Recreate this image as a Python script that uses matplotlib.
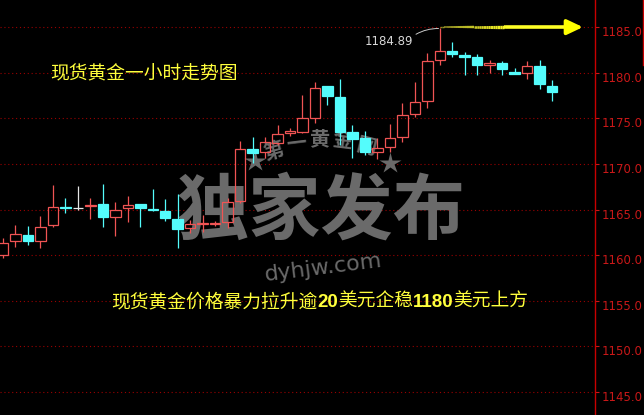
import matplotlib
matplotlib.use('Agg')
import matplotlib.pyplot as plt
import numpy as np
from matplotlib.collections import LineCollection
from matplotlib.transforms import ScaledTranslation
from matplotlib.lines import Line2D

plt.rcParams['font.family'] = ['Noto Sans CJK SC', 'DejaVu Sans']

# ---- data (gold spot, 1-hour candles) ----
opens = [1160.0, 1161.5, 1162.2, 1161.5, 1163.3, 1165.3, 1165.2, 1165.4, 1165.6, 1164.2,
         1165.2, 1165.6, 1165.1, 1164.8, 1164.0, 1163.0, 1163.4, 1163.4, 1163.6, 1165.9,
         1171.6, 1171.3, 1172.3, 1173.4, 1173.5, 1175.1, 1178.6, 1177.4, 1173.5, 1172.9,
         1171.3, 1171.9, 1173.0, 1175.5, 1176.9, 1181.4, 1182.4, 1182.0, 1181.8, 1180.9,
         1181.1, 1180.1, 1180.0, 1180.8, 1178.6]
highs = [1161.9, 1163.3, 1163.2, 1164.3, 1167.7, 1166.3, 1167.6, 1166.3, 1167.8, 1165.8,
         1166.5, 1165.6, 1167.3, 1166.2, 1166.7, 1163.8, 1164.4, 1163.7, 1166.3, 1172.5,
         1173.0, 1173.0, 1174.3, 1174.0, 1177.6, 1179.0, 1178.6, 1179.3, 1174.3, 1173.6,
         1172.9, 1174.4, 1176.7, 1179.0, 1182.2, 1184.89, 1183.4, 1182.3, 1182.1, 1181.4,
         1181.3, 1180.6, 1181.3, 1181.4, 1179.2]
lows = [1159.7, 1160.9, 1161.1, 1160.8, 1163.1, 1164.6, 1164.9, 1164.0, 1163.1, 1162.1,
        1163.6, 1163.1, 1164.8, 1163.7, 1160.8, 1162.4, 1162.5, 1163.2, 1163.0, 1165.7,
        1170.1, 1170.7, 1172.1, 1173.1, 1173.4, 1174.5, 1176.5, 1172.1, 1170.7, 1171.0,
        1170.5, 1171.3, 1172.4, 1175.2, 1176.2, 1180.9, 1181.8, 1179.8, 1179.8, 1180.0,
        1179.8, 1179.9, 1179.3, 1178.2, 1176.9]
closes = [1161.3, 1162.3, 1161.5, 1163.1, 1165.3, 1165.2, 1165.2, 1165.5, 1164.2, 1164.9,
          1165.5, 1165.2, 1165.0, 1164.1, 1162.9, 1163.4, 1163.5, 1163.5, 1165.8, 1171.6,
          1171.2, 1172.4, 1173.3, 1173.6, 1175.1, 1178.4, 1177.5, 1173.5, 1172.7, 1171.3,
          1171.8, 1172.9, 1175.4, 1176.8, 1181.3, 1182.4, 1182.1, 1181.8, 1180.9, 1181.1,
          1180.4, 1179.9, 1180.8, 1178.8, 1177.9]
price_ticks = [1145, 1150, 1155, 1160, 1165, 1170, 1175, 1180, 1185]
title_text = "现货黄金一小时走势图"
headline_parts = [("现货黄金价格暴力拉升逾", False), ("20", True), ("美元企稳", False),
                  ("1180", True), ("美元上方", False)]
watermark_text = "独家发布"
site_text = "dyhjw.com"
brand_text = "第一黄金网"

W, H = 644, 415
fig = plt.figure(figsize=(W / 100, H / 100), dpi=100, facecolor='black')
ax = fig.add_axes([0, 0, 595 / W, 1])
ax.set_facecolor('black')

n = len(opens)
xs = np.arange(n)
ax.set_xlim(-0.24, 47.44)
ax.set_ylim(1142.42, 1188.02)

# grid
for t in price_ticks:
    ax.axhline(t, color='#9A0000', lw=0.8, ls=(0, (1, 2.5)), zorder=0.5)

# watermark (below candles)
ax.text(321 / W, 1 - 212 / H, watermark_text, transform=fig.transFigure, fontsize=52,
        fontweight='bold', color='#6A6A6A', ha='center', va='center', zorder=1)
ax.text(323 / W, 1 - 268 / H, site_text, transform=fig.transFigure, fontsize=16,
        family='DejaVu Sans', color='#6A6A6A', ha='center', va='center', rotation=7, zorder=1)
brand_pos = [(274, 151, 16), (296, 143, 7), (319, 139, 0), (343, 140, -7), (366, 146, -14)]
for ch, (px, py, rot) in zip(brand_text, brand_pos):
    ax.text(px / W, 1 - py / H, ch, transform=fig.transFigure, fontsize=14.5, fontweight='bold',
            color='#6A6A6A', ha='center', va='center', rotation=rot, zorder=1)
for px, py in [(255, 161), (390, 163)]:
    ax.plot([px / W], [1 - py / H], marker='*', ms=16, color='#6A6A6A', mec='none',
            transform=fig.transFigure, zorder=1)

# candles
up_col, dn_col, eq_col = '#F05454', '#54FCFC', '#E6E6E6'
bw = 0.84
for i in range(n):
    o, h, l, c = opens[i], highs[i], lows[i], closes[i]
    col = up_col if c > o else (dn_col if c < o else eq_col)
    top, bot = max(o, c), min(o, c)
    ax.vlines(i, top, h, color=col, lw=0.9, zorder=3)
    ax.vlines(i, l, bot, color=col, lw=0.9, zorder=3)
    if c > o:
        ax.bar(i, top - bot, bottom=bot, width=bw, facecolor='none', edgecolor=col, lw=0.9, zorder=3)
    else:
        ax.bar(i, top - bot, bottom=bot, width=bw, facecolor=col, edgecolor=col, lw=0.9, zorder=3)

# axes styling
for s in ['left', 'top', 'bottom']:
    ax.spines[s].set_visible(False)
ax.spines['right'].set_color('#C80000')
ax.spines['right'].set_linewidth(1)
ax.set_xticks([])
ax.yaxis.tick_right()
ax.set_yticks(price_ticks)
ax.set_yticklabels([f"{t:.1f}" for t in price_ticks], family='DejaVu Sans', fontsize=8.5)
ax.tick_params(axis='y', colors='#C81818', length=3, width=0.8, pad=2)
off = ScaledTranslation(0, -4 / 100, fig.dpi_scale_trans)
for lab in ax.get_yticklabels():
    lab.set_transform(lab.get_transform() + off)

# arrow marking the high
imax = int(np.argmax(highs))
ya = highs[imax] + 0.15
x_end = 46.47
seg_x = np.linspace(imax, x_end - 0.6, 60)
pts = np.array([[a, ya] for a in seg_x])
segs = np.stack([pts[:-1], pts[1:]], axis=1)
frac = np.linspace(0, 1, len(segs))
cols = [(0.55 + 0.45 * min(1, f * 2), 0.55 + 0.45 * min(1, f * 2), 0.15) for f in frac]
lws = 1.0 + 1.6 * np.minimum(1, frac * 2)
ax.add_collection(LineCollection(segs, colors=cols, linewidths=lws, zorder=5))
ax.annotate('', xy=(x_end, ya), xytext=(x_end - 1.0, ya),
            arrowprops=dict(arrowstyle='-|>,head_length=0.95,head_width=0.45', color='#FFFF00',
                            lw=2.6, shrinkA=0, shrinkB=0), zorder=6)

ax.annotate(f"{highs[imax]:.2f}", xy=(imax - 0.1, highs[imax]), xytext=(30.93, 1183.5),
            textcoords='data', fontsize=8.5, family='DejaVu Sans', color='#D8D8D8',
            ha='center', va='center', zorder=6,
            arrowprops=dict(arrowstyle='-', color='#C8C8C8', lw=0.7, relpos=(1.0, 0.9),
                            connectionstyle='arc3,rad=-0.15', shrinkA=0, shrinkB=0))

# top-right edge line
fig.add_artist(Line2D([643 / W, 643 / W], [1, 1 - 65 / H], color='#C80000', lw=1))

# texts
yellow = '#FFFF3C'
fig.text(50 / W, 1 - 79 / H, title_text, fontsize=13.5, color=yellow, ha='left', va='baseline')

fig.canvas.draw()
r = fig.canvas.get_renderer()
xp = 111
for txt, bold in headline_parts:
    if bold:
        t = fig.text(xp / W, 1 - 307 / H, txt, fontsize=13.5, color=yellow, ha='left',
                     va='baseline', fontweight='bold', family=['Liberation Sans', 'DejaVu Sans'])
    else:
        t = fig.text(xp / W, 1 - 307 / H, txt, fontsize=13.5, color=yellow, ha='left', va='baseline')
    xp += t.get_window_extent(renderer=r).width

fig.savefig('out.png', dpi=100, facecolor='black')
